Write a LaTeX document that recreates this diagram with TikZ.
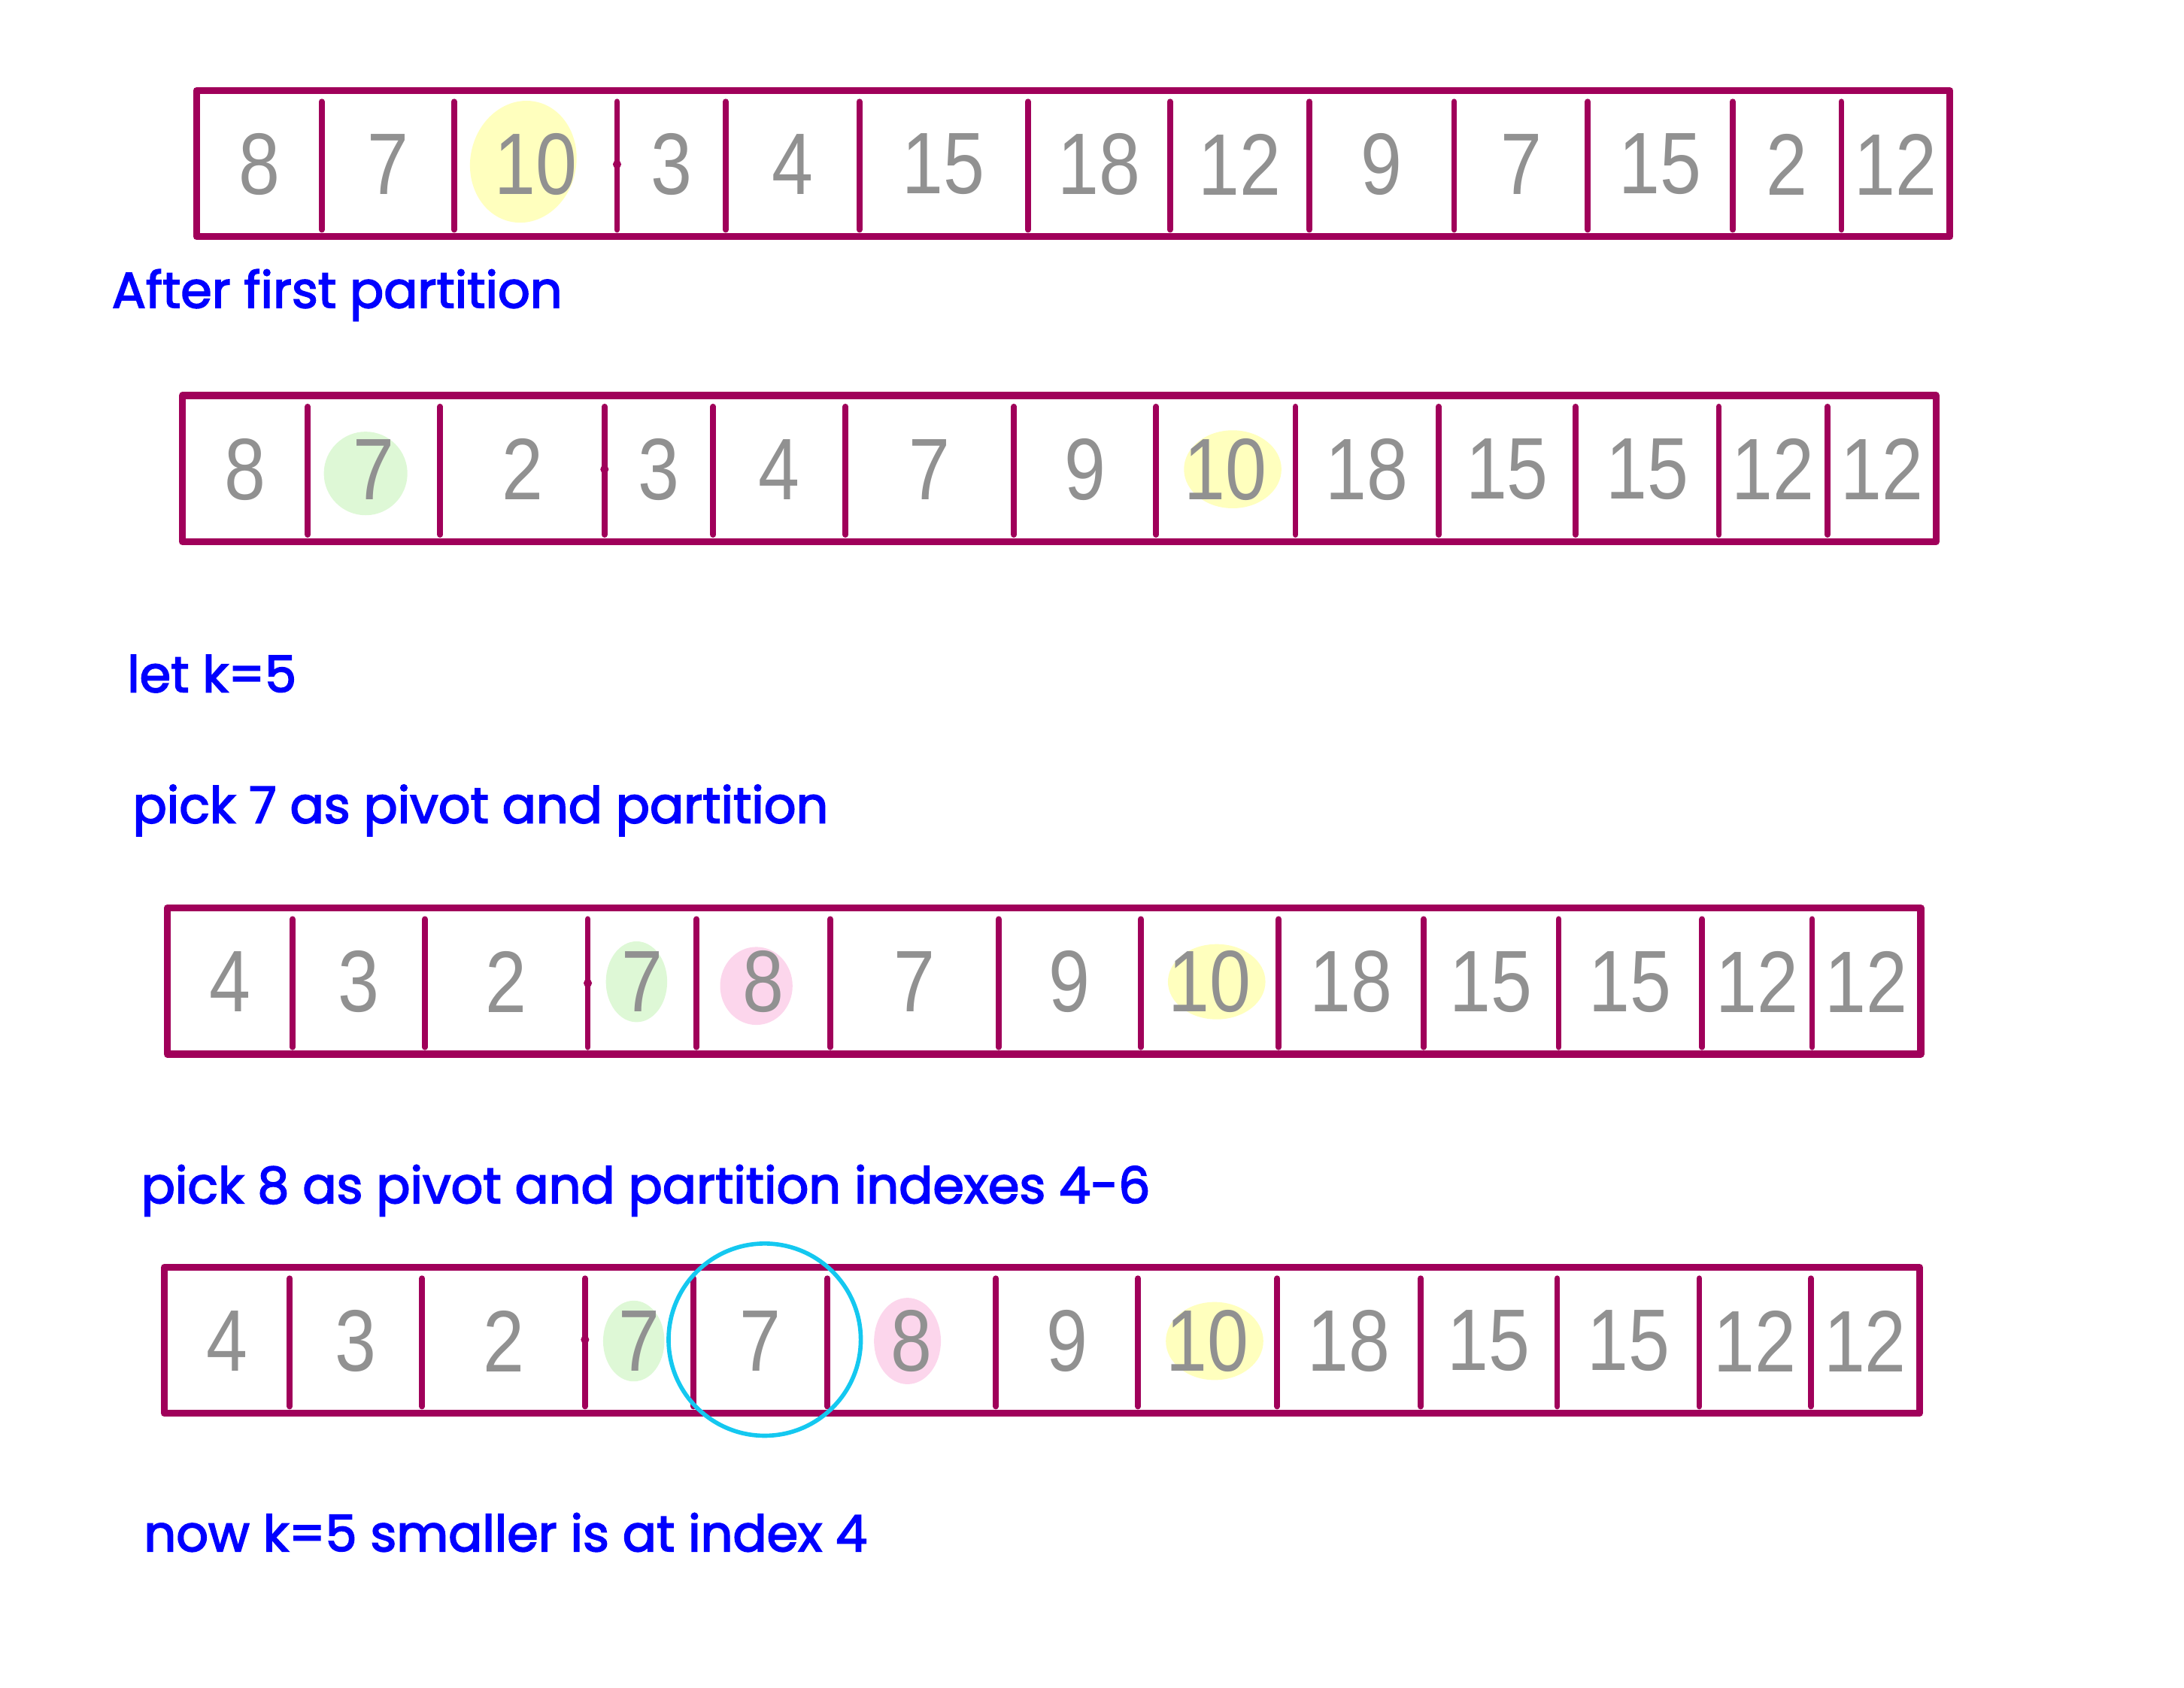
\documentclass[tikz,border=0pt]{standalone}
\usepackage{fontspec}
\usetikzlibrary{calc,backgrounds}
\newfontfamily\notefont{Poppins}[FakeBold=2.6]
\newfontfamily\digitfont{Liberation Sans}[FakeStretch=0.85]
\definecolor{framecol}{RGB}{160,0,90}
\definecolor{notecol}{RGB}{0,0,255}
\definecolor{digitcol}{RGB}{145,145,145}
\definecolor{hlyellow}{RGB}{255,255,190}
\definecolor{hlgreen}{RGB}{222,248,214}
\definecolor{hlpink}{RGB}{252,214,236}
\definecolor{ringcol}{RGB}{20,200,240}
\tikzset{
  frame/.style={draw=framecol,line width=2.6pt,line join=round},
  divider/.style={draw=framecol,line width=2.2pt,line cap=round},
  digit/.style={text=digitcol,font=\digitfont\fontsize{33}{33}\selectfont,inner sep=0pt},
  note/.style={text=notecol,font=\notefont\fontsize{19}{22}\selectfont,anchor=base west,inner sep=0pt}
}
\begin{document}
\begin{tikzpicture}[x=0.0185cm,y=-0.0185cm]
\useasboundingbox (0,0) rectangle (1568,1212);
\foreach \r/\yt/\xl/\xr/\cells in {
  1/65/141/1400/{231/8,326/7,443/10,521/3,617/4,738/15,840/18,940/12,1044/9,1140/7,1244/15,1322/2,1400/12},
  2/284/131/1390/{221/8,316/7,434/2,512/3,607/4,728/7,830/9,930/10,1033/18,1131/15,1234/15,1312/12,1390/12},
  3/652/120/1379/{210/4,305/3,422/2,500/7,596/8,717/7,819/9,918/10,1022/18,1119/15,1222/15,1301/12,1379/12},
  4/910/118/1378/{208/4,303/3,420/2,498/7,594/7,715/8,817/9,917/10,1020/18,1118/15,1220/15,1300/12,1378/12}}{
  \draw[frame] (\xl,\yt) rectangle (\xr,\yt+105);
  \foreach \b/\n [count=\i,remember=\b as \prev (initially \xl)] in \cells {
    \ifnum\i<13 \draw[divider] (\b,\yt+8) -- (\b,\yt+100); \fi
    \node[digit] (d\r-\i) at (\prev/2+\b/2,\yt+53) {\n};
  }
}
\foreach \x/\y in {443/118,434/337,422/706,420/962} \fill[framecol] (\x,\y) circle [radius=3];
\begin{pgfonlayer}{background}
\fill[hlyellow,rotate=-12] ($(d1-3)+(-9,0)$) ellipse [x radius=38,y radius=44];
\fill[hlgreen] ($(d2-2)+(-6,3)$) ellipse [x radius=30,y radius=30];
\fill[hlyellow] ($(d2-8)+(5,0)$) ellipse [x radius=35,y radius=28];
\fill[hlgreen] ($(d3-4)+(-4,0)$) ellipse [x radius=22,y radius=29];
\fill[hlpink] ($(d3-5)+(-5,3)$) ellipse [x radius=26,y radius=28];
\fill[hlyellow] ($(d3-8)+(5,0)$) ellipse [x radius=35,y radius=27];
\fill[hlgreen] ($(d4-4)+(-4,0)$) ellipse [x radius=22,y radius=29];
\fill[hlpink] ($(d4-6)+(-3,0)$) ellipse [x radius=24,y radius=31];
\fill[hlyellow] ($(d4-8)+(5,0)$) ellipse [x radius=35,y radius=28];
\end{pgfonlayer}
\draw[ringcol,line width=1.6pt] ($(d4-5)+(3,-1)$) circle [radius=69];
\node[note] (first) at (80,221) {After first partition};
\node[note] (letk) at (91,497) {let k=5};
\node[note] (pickseven) at (95,591) {pick 7 as pivot and partition};
\node[note] (pickeight) at (101,864) {pick 8 as pivot and partition indexes 4-6};
\node[note] (result) at (103,1114) {now k=5 smaller is at index 4};
\end{tikzpicture}
\end{document}
